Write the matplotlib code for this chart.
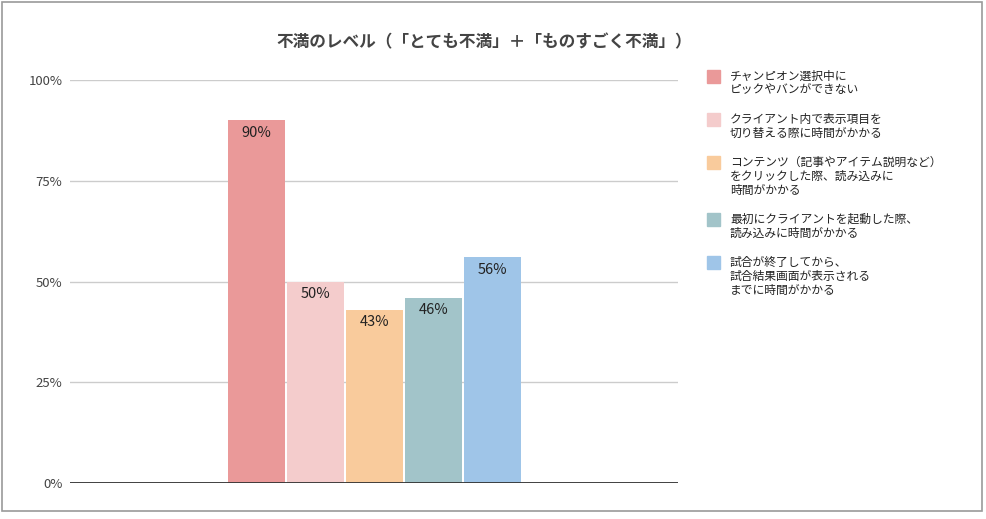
import matplotlib
matplotlib.use('Agg')
import matplotlib.pyplot as plt
from matplotlib.patches import Rectangle

plt.rcParams['font.family'] = ['Noto Sans CJK JP', 'DejaVu Sans']

title = '不満のレベル（「とても不満」＋「ものすごく不満」）'
categories = [
    'チャンピオン選択中に\nピックやバンができない',
    'クライアント内で表示項目を\n切り替える際に時間がかかる',
    'コンテンツ（記事やアイテム説明など）\nをクリックした際、読み込みに\n時間がかかる',
    '最初にクライアントを起動した際、\n読み込みに時間がかかる',
    '試合が終了してから、\n試合結果画面が表示される\nまでに時間がかかる',
]
values = [0.90, 0.50, 0.43, 0.46, 0.56]
value_labels = ['90%', '50%', '43%', '46%', '56%']
colors = ['#EA9999', '#F4CCCC', '#F9CB9C', '#A2C4C9', '#9FC5E8']
y_ticks = [0, 0.25, 0.5, 0.75, 1.0]
y_tick_labels = ['0%', '25%', '50%', '75%', '100%']

W, H = 986, 519
fig = plt.figure(figsize=(W / 100, H / 100), dpi=100)


def fx(px):
    return px / W


def fy(py):
    return 1 - py / H


# chart frame
fig.patches.append(Rectangle((fx(2), fy(511)), fx(980), 509 / H, transform=fig.transFigure,
                             fill=False, edgecolor='#9a9a9a', linewidth=1.2))

ax = fig.add_axes([fx(70), fy(483), fx(608), (483 - 80) / H])
x = list(range(len(values)))
ax.bar(x, values, width=0.966, color=colors, zorder=3)
for xi, v, lab in zip(x, values, value_labels):
    ax.annotate(lab, (xi, v), xytext=(0, -9), textcoords='offset points',
                ha='center', va='center', fontsize=10.5, color='#222222', zorder=4)

ax.set_xlim(-3.16, 7.14)
ax.set_ylim(0, 1)
ax.set_yticks(y_ticks)
ax.set_yticklabels(y_tick_labels)
ax.set_xticks([])
ax.tick_params(axis='y', length=0, pad=5.5, labelsize=9.5, labelcolor='#444444')
ax.grid(axis='y', color='#cccccc', linewidth=1, zorder=0)
ax.axhline(0, color='#333333', linewidth=1.3, zorder=4)
for s in ax.spines.values():
    s.set_visible(False)

fig.text(fx(484), fy(42), title, ha='center', va='center', fontsize=12,
         fontweight='bold', color='#444444')

# legend, drawn by hand so the swatch sits beside the first line
line_step = 14
entry_gap = 29
ly = 76
for cat, col in zip(categories, colors):
    lines = cat.split('\n')
    fig.patches.append(Rectangle((fx(707), fy(ly + 7)), fx(13), 13 / H,
                                 transform=fig.transFigure, color=col))
    for i, t in enumerate(lines):
        fig.text(fx(730), fy(ly + i * line_step), t, ha='left', va='center',
                 fontsize=8.5, color='#222222')
    ly += (len(lines) - 1) * line_step + entry_gap

fig.savefig('out.png', dpi=100, facecolor='white')
